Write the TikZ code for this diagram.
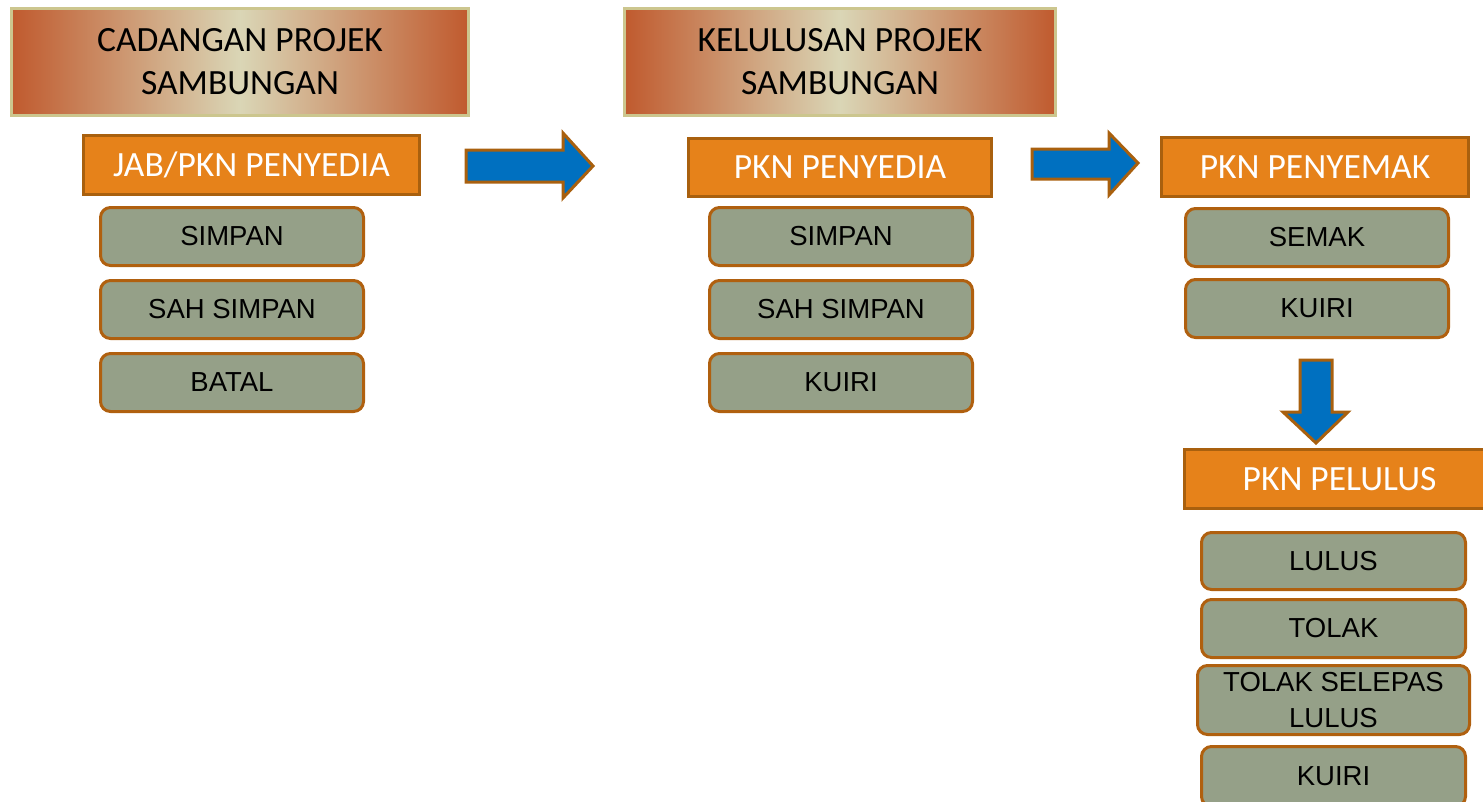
\documentclass[tikz,border=0pt]{standalone}
\usepackage{fontspec}
\setmainfont{Liberation Sans}
\newfontfamily\calib{Carlito}
\definecolor{hdrin}{HTML}{DAD6B6}
\definecolor{hdrmid}{HTML}{D2A47E}
\definecolor{hdrout}{HTML}{C05A2E}
\definecolor{hdrborder}{HTML}{CCC68E}
\definecolor{orfill}{HTML}{E6821A}
\definecolor{orborder}{HTML}{A9600E}
\definecolor{grfill}{HTML}{95A088}
\definecolor{grborder}{HTML}{B0600F}
\definecolor{arblue}{HTML}{0070C0}
\tikzset{
  hdr/.style={rectangle, draw=hdrborder, line width=3pt, left color=hdrout, right color=hdrout, middle color=hdrin,
    anchor=north west, align=center, inner sep=0pt, font=\calib\fontsize{35.5}{43}\selectfont, text=black},
  orbox/.style={rectangle, draw=orborder, fill=orfill, line width=3pt, anchor=north west, inner sep=0pt,
    font=\calib\fontsize{35.5}{43}\selectfont, text=white},
  grbox/.style={rectangle, rounded corners=10pt, draw=grborder, fill=grfill, line width=3pt, anchor=north west,
    inner sep=0pt, align=center, font=\fontsize{27.5}{36}\selectfont, text=black},
  blockarrow/.style={draw=orborder, fill=arblue, line width=3pt, line join=miter}
}
\begin{document}
\begin{tikzpicture}[x=1pt,y=-1pt]
\useasboundingbox (0,0) rectangle (1483,801);
\clip (0,0) rectangle (1483,801);
% headers
\node[hdr, minimum width=457pt, minimum height=107pt] (h1) at (10,7) {CADANGAN PROJEK\\SAMBUNGAN};
\node[hdr, minimum width=431pt, minimum height=107pt] (h2) at (623,7) {KELULUSAN PROJEK\\SAMBUNGAN};
% orange boxes
\node[orbox, minimum width=336pt, minimum height=59pt] (o1) at (82,134) {JAB/PKN PENYEDIA};
\node[orbox, minimum width=303pt, minimum height=58pt] (o2) at (687,137) {PKN PENYEDIA};
\node[orbox, minimum width=307pt, minimum height=59pt] (o3) at (1160,136) {PKN PENYEMAK};
\node[orbox, minimum width=310pt, minimum height=59pt] (o4) at (1183,448) {PKN PELULUS};
% column 1
\node[grbox, minimum width=263pt, minimum height=58pt] (a1) at (99,206) {SIMPAN};
\node[grbox, minimum width=263pt, minimum height=58pt] (a2) at (99,279) {SAH SIMPAN};
\node[grbox, minimum width=263pt, minimum height=58pt] (a3) at (99,352) {BATAL};
% column 2
\node[grbox, minimum width=263pt, minimum height=58pt] (b1) at (708,206) {SIMPAN};
\node[grbox, minimum width=263pt, minimum height=58pt] (b2) at (708,279) {SAH SIMPAN};
\node[grbox, minimum width=263pt, minimum height=58pt] (b3) at (708,352) {KUIRI};
% column 3
\node[grbox, minimum width=263pt, minimum height=58pt] (c1) at (1184,207) {SEMAK};
\node[grbox, minimum width=263pt, minimum height=58pt] (c2) at (1184,278) {KUIRI};
% column 4
\node[grbox, minimum width=264pt, minimum height=57pt] (d1) at (1200,531) {LULUS};
\node[grbox, minimum width=264pt, minimum height=58pt] (d2) at (1200,598) {TOLAK};
\node[grbox, minimum width=272pt, minimum height=69pt] (d3) at (1196,664) {TOLAK SELEPAS\\LULUS};
\node[grbox, minimum width=264pt, minimum height=60pt] (d4) at (1200,745) {KUIRI};
% block arrows
\draw[blockarrow] (466,150) -- (563,150) -- (563,133) -- (593,166) -- (563,198) -- (563,182) -- (466,182) -- cycle;
\draw[blockarrow] (1032,149) -- (1109,149) -- (1109,133) -- (1138,163) -- (1109,195) -- (1109,179) -- (1032,179) -- cycle;
\draw[blockarrow] (1300,360) -- (1332,360) -- (1332,412) -- (1348,412) -- (1316,443) -- (1283,412) -- (1300,412) -- cycle;
\end{tikzpicture}
\end{document}
